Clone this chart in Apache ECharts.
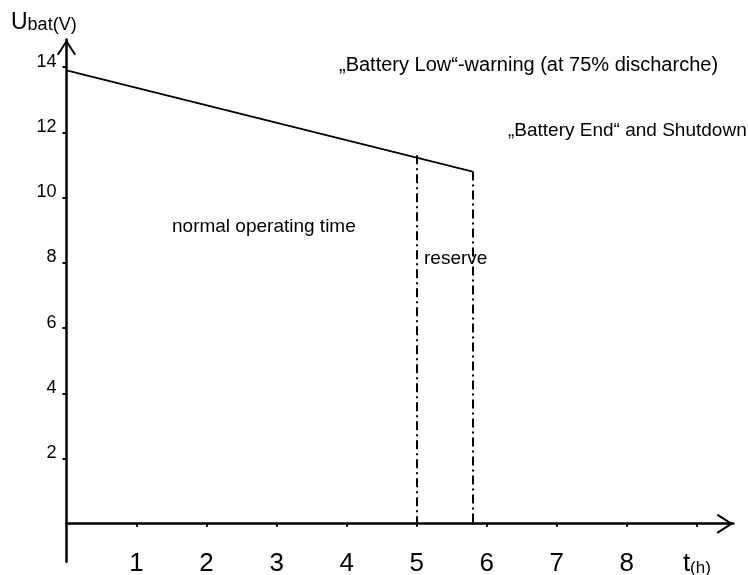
<!DOCTYPE html>
<html>
<head>
<meta charset="utf-8">
<script src="https://cdn.jsdelivr.net/npm/echarts@6/dist/echarts.min.js"></script>
<style>
  html, body { margin: 0; padding: 0; background: #fff; }
  #chart { width: 748px; height: 575px; }
</style>
</head>
<body>
<div id="chart"></div>
<script>
// discharge curve, t in hours, U in volts
const hours = [0, 5.8];
const voltage = [13.9, 10.8];
// "Battery Low" and "Battery End" markers
const warnPoint = [5, 11.3];
const endPoint = [5.8, 10.8];

const xTicks = [1, 2, 3, 4, 5, 6, 7, 8, 9];
const yTicks = [2, 4, 6, 8, 10, 12, 14];

const font = 'Liberation Sans, Arial, sans-serif';
// open chevron, pointing up before rotation
const arrow = 'path://M10,0 L20,15.5 L18.3,16.6 L10,3.7 L1.7,16.6 L0,15.5 Z';

let chartDom = document.getElementById('chart');
let myChart = echarts.init(chartDom, null, { renderer: 'canvas' });

let option = {
  animation: false,
  backgroundColor: '#fff',
  title: {
    text: '{u|U}{b|bat(V)}',
    left: 11,
    top: 11,
    padding: 0,
    textStyle: {
      fontWeight: 'normal',
      rich: {
        u: { fontFamily: font, fontSize: 23, fontWeight: 'normal', color: '#000', verticalAlign: 'bottom', lineHeight: 23 },
        b: { fontFamily: font, fontSize: 18, fontWeight: 'normal', color: '#000', verticalAlign: 'bottom', lineHeight: 23 }
      }
    }
  },
  grid: { left: 66.5, right: 14.7, top: 39.5, bottom: 13.3, containLabel: false, outerBoundsMode: 'none' },
  xAxis: {
    type: 'value',
    min: 0,
    max: 9.52,
    splitLine: { show: false },
    axisLine: {
      onZero: true,
      lineStyle: { color: '#000', width: 2.5 },
      symbol: ['none', arrow],
      symbolSize: [20, 16.6],
      symbolOffset: [0, -8.3]
    },
    axisTick: { customValues: xTicks, length: 3, lineStyle: { color: '#000', width: 2 } },
    axisLabel: {
      customValues: xTicks,
      // labels sit at the grid bottom (below the y-axis stub), pull them up
      margin: -11,
      color: '#000',
      fontFamily: font,
      fontSize: 26,
      lineHeight: 26,
      formatter: function (v) {
        return v === 9 ? '{t|t}{h|(h)}' : String(v);
      },
      rich: {
        t: { fontFamily: font, fontSize: 26, color: '#000', verticalAlign: 'bottom', lineHeight: 26 },
        h: { fontFamily: font, fontSize: 17, color: '#000', verticalAlign: 'bottom', lineHeight: 26 }
      }
    }
  },
  yAxis: {
    type: 'value',
    min: -1.166,
    max: 14.85,
    splitLine: { show: false },
    axisLine: {
      onZero: true,
      lineStyle: { color: '#000', width: 2.5 },
      symbol: ['none', arrow],
      symbolSize: [19, 15.8],
      symbolOffset: [0, -7.9]
    },
    axisTick: { customValues: yTicks, length: 4, lineStyle: { color: '#000', width: 2 } },
    axisLabel: {
      customValues: yTicks,
      margin: 10,
      color: '#000',
      fontFamily: font,
      fontSize: 18,
      verticalAlign: 'bottom',
      lineHeight: 11
    }
  },
  series: [
    {
      name: 'Ubat',
      type: 'line',
      symbol: 'none',
      data: hours.map((h, i) => [h, voltage[i]]),
      lineStyle: { color: '#000', width: 1.8 },
      markLine: {
        silent: true,
        symbol: 'none',
        label: { show: false },
        lineStyle: { color: '#000', width: 2, type: [9, 4, 2, 4] },
        data: [
          [{ coord: warnPoint }, { coord: [warnPoint[0], 0] }],
          [{ coord: endPoint }, { coord: [endPoint[0], 0] }]
        ]
      }
    }
  ],
  graphic: [
    { type: 'text', x: 339, y: 65.5, style: { text: '\u201EBattery Low\u201C-warning (at 75% discharche)', font: '20px ' + font, fill: '#000', textVerticalAlign: 'middle' } },
    { type: 'text', x: 508, y: 130.8, style: { text: '\u201EBattery End\u201C and Shutdown', font: '19px ' + font, fill: '#000', textVerticalAlign: 'middle' } },
    { type: 'text', x: 172, y: 227, style: { text: 'normal operating time', font: '19px ' + font, fill: '#000', textVerticalAlign: 'middle' } },
    { type: 'text', x: 424, y: 259, style: { text: 'reserve', font: '19px ' + font, fill: '#000', textVerticalAlign: 'middle' } }
  ]
};

option && myChart.setOption(option);
</script>
</body>
</html>
